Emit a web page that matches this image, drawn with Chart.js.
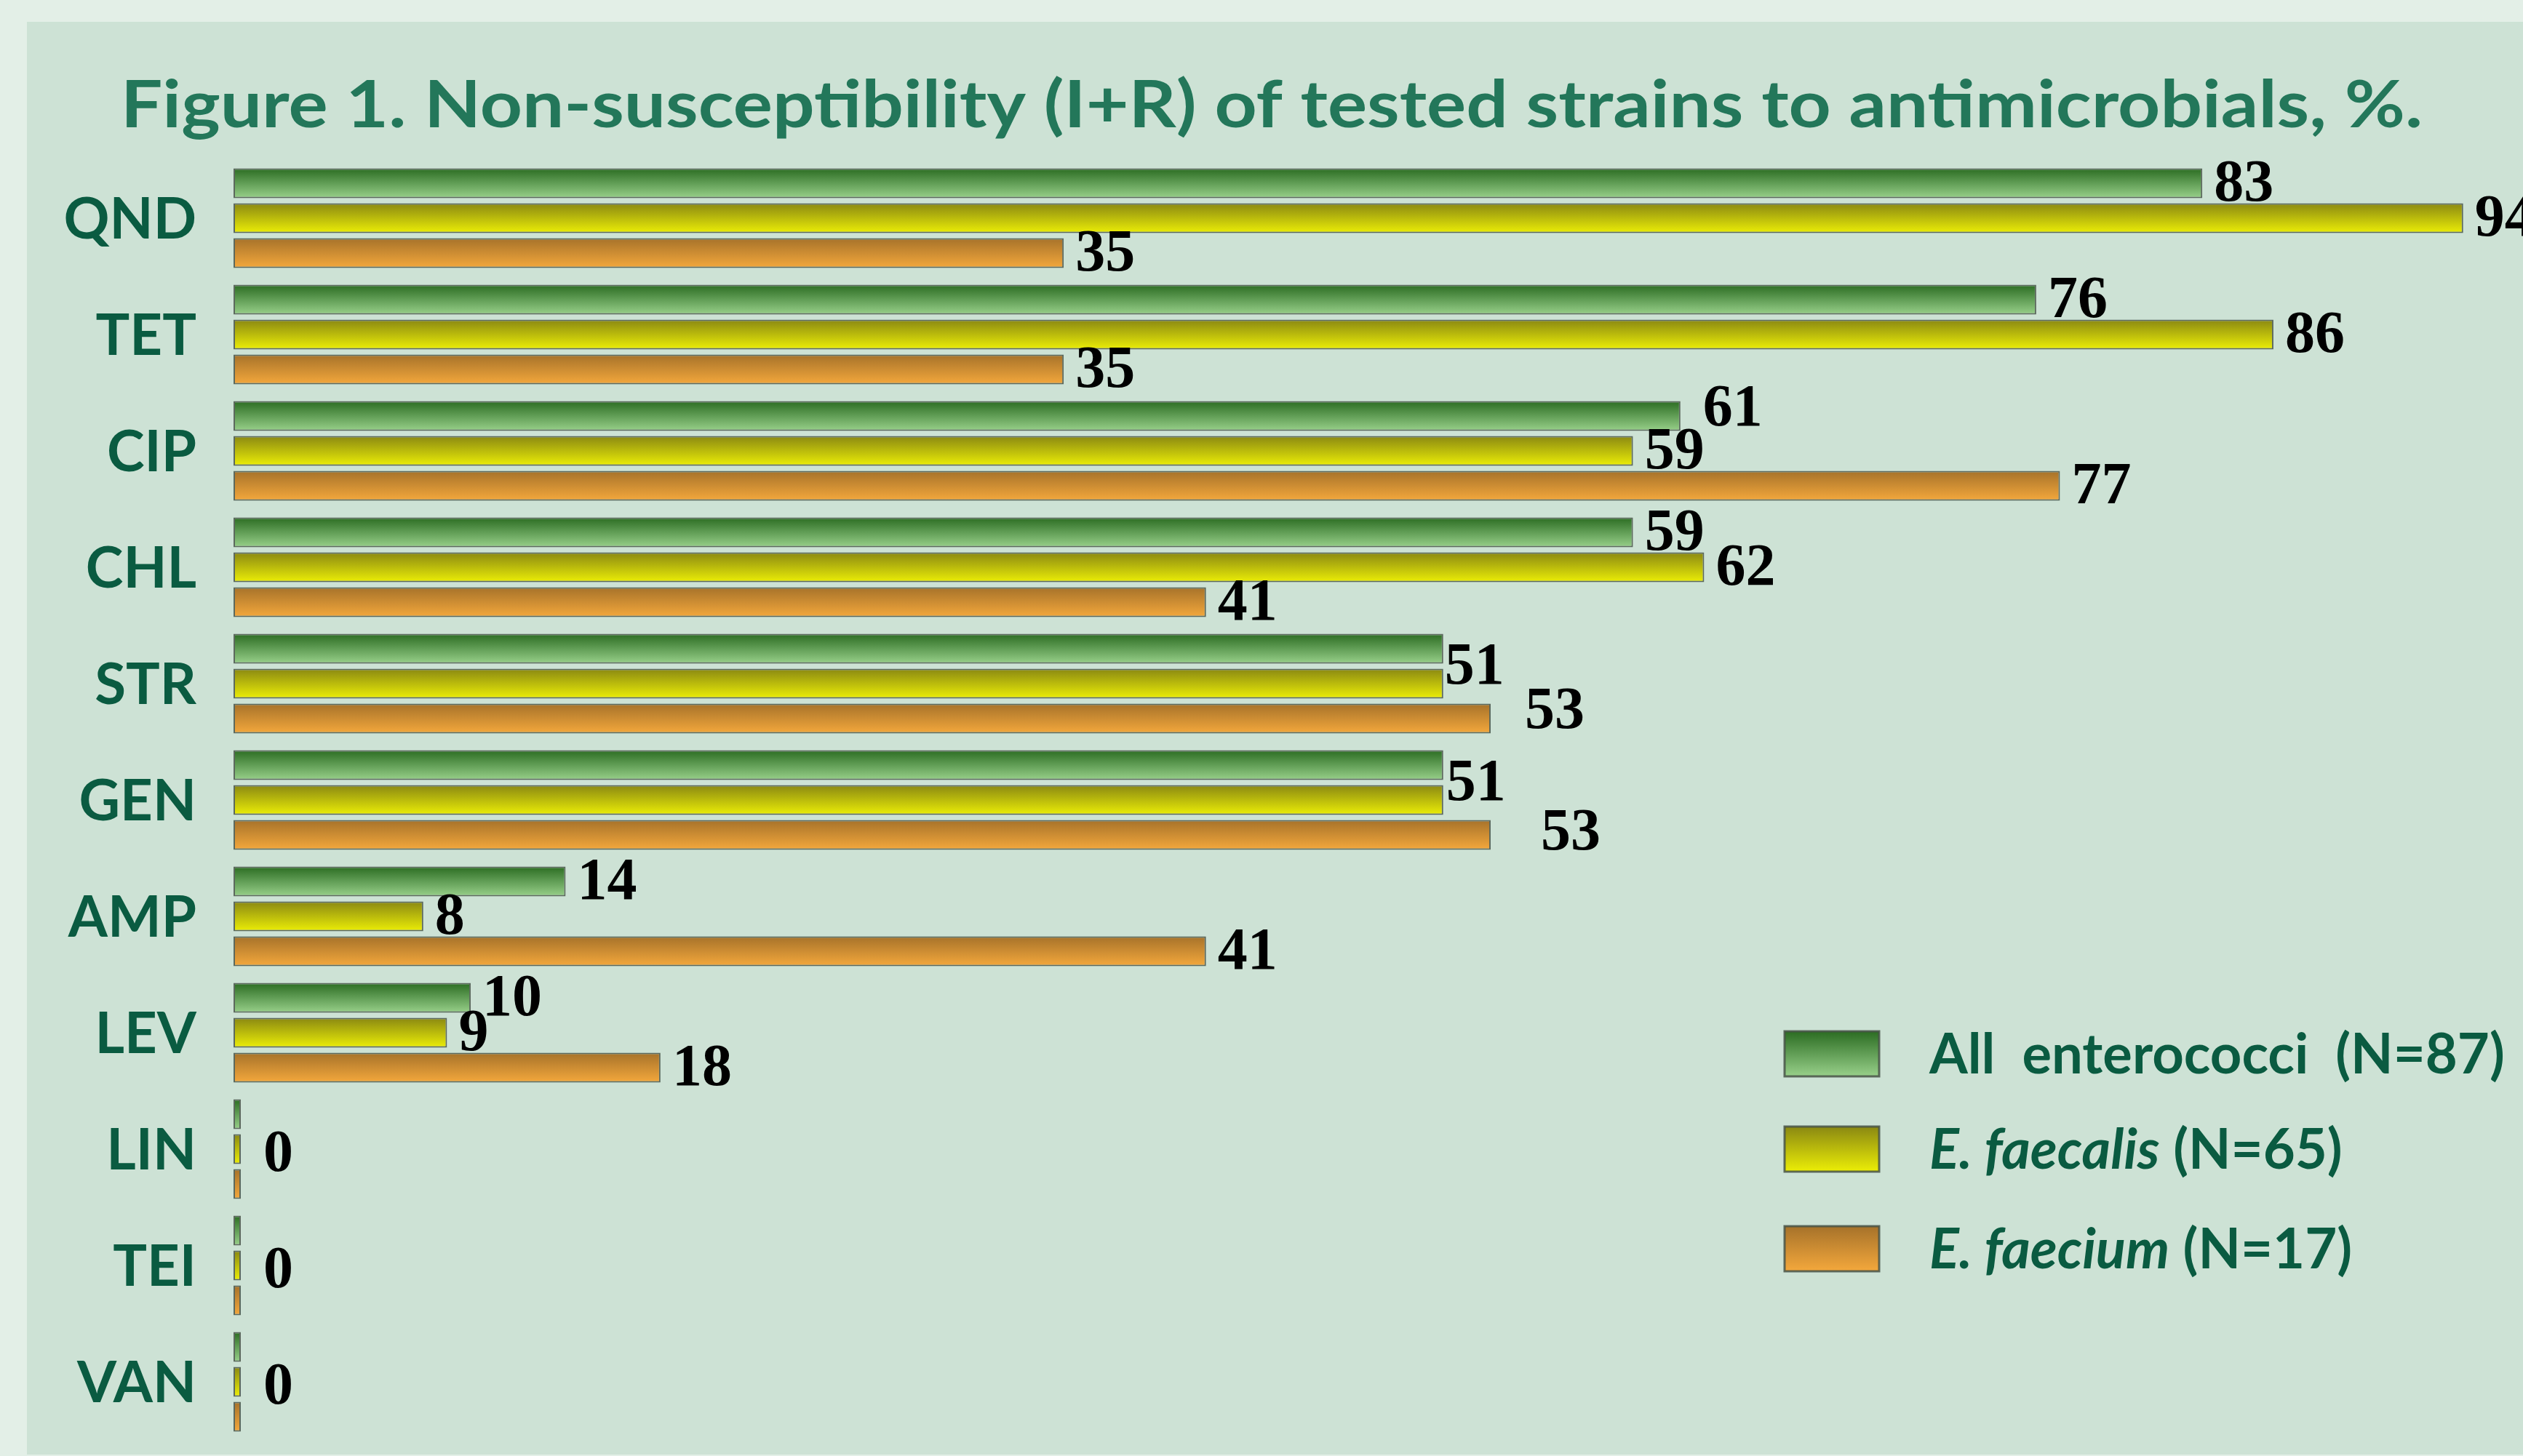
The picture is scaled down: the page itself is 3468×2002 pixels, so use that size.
<!DOCTYPE html>
<html>
<head>
<meta charset="utf-8">
<script src="https://cdn.jsdelivr.net/npm/chart.js@4.4.1/dist/chart.umd.min.js"></script>
<style>
  html, body { margin: 0; padding: 0; background: #e3efe7; }
  #wrap { width: 3468px; height: 2002px; position: relative; }
  canvas { display: block; }
</style>
</head>
<body>
<div id="wrap"><canvas id="chart" width="3468" height="2002"></canvas></div>
<script>
// Antimicrobials (short codes) and non-susceptibility per group, %
const drugs = ['QND', 'TET', 'CIP', 'CHL', 'STR', 'GEN', 'AMP', 'LEV', 'LIN', 'TEI', 'VAN'];
const allEnterococci = [83, 76, 61, 59, 51, 51, 14, 10, 0, 0, 0];
const eFaecalis      = [94, 86, 59, 62, 51, 51, 8, 9, 0, 0, 0];
const eFaecium       = [35, 35, 77, 41, 53, 53, 41, 18, 0, 0, 0];
const seriesNames = ['All  enterococci  (N=87)', 'E. faecalis (N=65)', 'E. faecium (N=17)'];
const titleText = 'Figure 1. Non-susceptibility (I+R) of tested strains to antimicrobials, %.';

// small label offsets (dataset:index -> [dx, dy]) to keep value labels clear of each other
const labelNudge = {
  '0:2': [15, -11], '0:4': [-14, 0], '0:5': [-12, 0],
  '2:4': [31, -11], '2:5': [53, -4],
  '1:8': [15, 6], '1:9': [15, 6], '1:10': [15, 6]
};

const HEAD_FONT = '"Lato", "DejaVu Sans", sans-serif';
const VALUE_FONT = '"Liberation Serif", "DejaVu Serif", serif';

// panel background
const panel = {
  id: 'panel',
  beforeDraw(chart) {
    const c = chart.ctx;
    c.save();
    c.fillStyle = '#e3efe7';
    c.fillRect(0, 0, chart.width, chart.height);
    c.fillStyle = '#cde2d5';
    c.fillRect(37, 30, chart.width - 37, chart.height - 32);
    c.restore();
  }
};

// vertical gradient fill on every bar
const shading = {
  id: 'shading',
  beforeDatasetsDraw(chart) {
    const c = chart.ctx;
    chart.data.datasets.forEach((ds, i) => {
      chart.getDatasetMeta(i).data.forEach(el => {
        const top = el.y - el.height / 2, bot = el.y + el.height / 2;
        const g = c.createLinearGradient(0, top, 0, bot);
        g.addColorStop(0, ds.shade[0]);
        g.addColorStop(1, ds.shade[1]);
        el.options = Object.assign({}, el.options, { backgroundColor: g });
      });
    });
  }
};

// value labels at bar ends
const valueLabels = {
  id: 'valueLabels',
  afterDatasetsDraw(chart) {
    const c = chart.ctx;
    const metas = chart.data.datasets.map((d, i) => chart.getDatasetMeta(i));
    c.save();
    c.font = 'bold 82px ' + VALUE_FONT;
    c.fillStyle = '#000000';
    c.textBaseline = 'alphabetic';
    c.textAlign = 'left';
    drugs.forEach((_, j) => {
      const vals = chart.data.datasets.map(d => d.data[j]);
      const bars = metas.map(m => m.data[j]);
      const allZero = vals.every(v => v === 0);
      vals.forEach((v, i) => {
        let x = bars[i].x, y = bars[i].y;
        if (allZero) {
          if (i !== 1) return;
        } else if (i === 1 && vals[0] === vals[1]) {
          return;
        } else if (i === 0 && vals[0] === vals[1]) {
          y = (bars[0].y + bars[1].y) / 2;
          x = Math.max(bars[0].x, bars[1].x);
        }
        const n = labelNudge[i + ':' + j] || [0, 0];
        c.fillText(String(v), x + 16 + n[0], y + 24 + n[1]);
      });
    });
    c.restore();
  }
};

// title, category names and legend
const frame = {
  id: 'frame',
  afterDraw(chart) {
    const c = chart.ctx;
    c.save();
    // title
    c.font = 'bold 90px ' + HEAD_FONT;
    c.fillStyle = '#23775a';
    c.textBaseline = 'alphabetic';
    c.textAlign = 'left';
    const tw = c.measureText(titleText).width;
    c.translate(166, 175);
    c.scale(3164 / tw, 1);
    c.fillText(titleText, 0, 0);
    c.restore();

    // category labels
    c.save();
    const ys = chart.scales.y;
    c.font = 'bold 78px ' + HEAD_FONT;
    c.fillStyle = '#0a5b41';
    c.textAlign = 'right';
    c.textBaseline = 'alphabetic';
    drugs.forEach((d, i) => {
      c.fillText(d, 270, ys.getPixelForValue(i) + 28);
    });
    c.restore();

    // legend
    c.save();
    const boxTops = [1418, 1549, 1686];
    chart.data.datasets.forEach((ds, i) => {
      const bx = 2453, by = boxTops[i], bw = 130, bh = 62;
      const g = c.createLinearGradient(0, by, 0, by + bh);
      g.addColorStop(0, ds.shade[0]);
      g.addColorStop(1, ds.shade[1]);
      c.fillStyle = g;
      c.fillRect(bx, by, bw, bh);
      c.strokeStyle = ds.borderColor;
      c.lineWidth = 3;
      c.strokeRect(bx, by, bw, bh);

      c.fillStyle = '#0a5b41';
      c.textBaseline = 'middle';
      c.textAlign = 'left';
      const label = ds.label;
      let x = 2652;
      const cy = by + bh / 2 + 2;
      if (ds.italicName) {
        const k = label.indexOf(' (');
        const sp = label.slice(0, k), rest = label.slice(k);
        c.font = 'italic bold 76px ' + HEAD_FONT;
        c.fillText(sp, x, cy);
        x += c.measureText(sp).width;
        c.font = 'bold 76px ' + HEAD_FONT;
        c.fillText(rest, x, cy);
      } else {
        c.font = 'bold 76px ' + HEAD_FONT;
        c.fillText(label, x, cy);
      }
    });
    c.restore();
  }
};

const borderCol = 'rgba(72, 84, 72, 0.85)';

new Chart(document.getElementById('chart'), {
  type: 'bar',
  data: {
    labels: drugs,
    datasets: [
      { label: seriesNames[0], data: allEnterococci, shade: ['#2b6c22', '#98d08a'], backgroundColor: '#5e9e52', borderColor: borderCol },
      { label: seriesNames[1], data: eFaecalis, shade: ['#8a8812', '#ecee06'], backgroundColor: '#c8c80a', borderColor: borderCol, italicName: true },
      { label: seriesNames[2], data: eFaecium, shade: ['#a6722a', '#f4a83c'], backgroundColor: '#d08c34', borderColor: borderCol, italicName: true }
    ]
  },
  options: {
    indexAxis: 'y',
    responsive: false,
    devicePixelRatio: 1,
    animation: false,
    layout: { padding: { left: 321, right: 17, top: 220, bottom: 22 } },
    datasets: {
      bar: {
        categoryPercentage: 0.9,
        barPercentage: 0.855,
        borderWidth: 2,
        borderSkipped: false,
        minBarLength: 10
      }
    },
    scales: {
      x: { display: false, min: 0, max: 96 },
      y: { display: false, grid: { display: false } }
    },
    plugins: {
      legend: { display: false },
      title: { display: false },
      tooltip: { enabled: false }
    }
  },
  plugins: [panel, shading, valueLabels, frame]
});
</script>
</body>
</html>
